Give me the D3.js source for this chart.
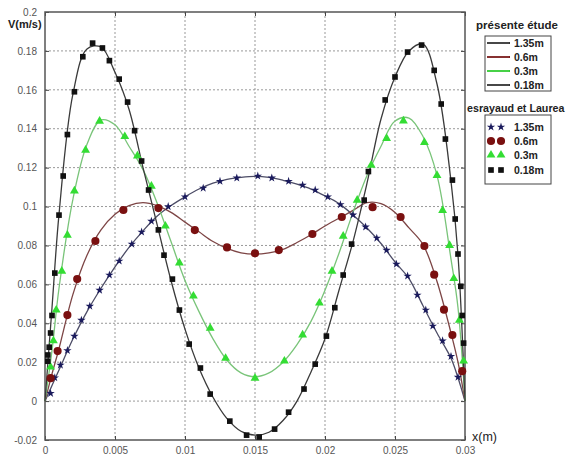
<!DOCTYPE html>
<html>
<head>
<meta charset="utf-8">
<script src="https://cdn.jsdelivr.net/npm/d3@7"></script>
<style>
  body { margin: 0; background: #fff; }
  svg { display: block; font-family: "Liberation Sans", Arial, sans-serif; }
</style>
</head>
<body>
<div id="chart"></div>
<script>
var width = 566,
    height = 455;

// x grid of the computed curves (présente étude)
var xGrid = [0, 0.0005, 0.001, 0.002, 0.003, 0.004, 0.005, 0.006, 0.007, 0.008, 0.009, 0.010, 0.011, 0.012, 0.013, 0.014, 0.015,
  0.016, 0.017, 0.018, 0.019, 0.020, 0.021, 0.022, 0.023, 0.024, 0.025, 0.026, 0.027, 0.028, 0.029, 0.0295, 0.03];

var line135 = [0, 0.008, 0.016, 0.032, 0.046, 0.058, 0.069, 0.079, 0.0875, 0.095, 0.1005, 0.105, 0.109, 0.112, 0.114, 0.115, 0.1155,
  0.115, 0.1135, 0.1115, 0.109, 0.1055, 0.1015, 0.0957, 0.089, 0.081, 0.0715, 0.063, 0.049, 0.035, 0.022, 0.012, 0];
var line06 = [0, 0.014, 0.027, 0.055, 0.075, 0.088, 0.096, 0.1005, 0.102, 0.1005, 0.097, 0.092, 0.087, 0.082, 0.0785, 0.0762, 0.0755,
  0.0762, 0.078, 0.0815, 0.0855, 0.09, 0.094, 0.098, 0.102, 0.1015, 0.097, 0.089, 0.0805, 0.0615, 0.035, 0.02, 0];
var line03 = [0, 0.026, 0.058, 0.104, 0.132, 0.1445, 0.142, 0.131, 0.119, 0.102, 0.082, 0.062, 0.046, 0.032, 0.021, 0.0145, 0.0125,
  0.0145, 0.02, 0.029, 0.041, 0.057, 0.076, 0.097, 0.116, 0.131, 0.144, 0.1455, 0.136, 0.116, 0.073, 0.048, 0];
var line018 = [0, 0.048, 0.096, 0.158, 0.181, 0.182, 0.169, 0.150, 0.120, 0.091, 0.062, 0.037, 0.017, 0.002, -0.009, -0.0155, -0.0175,
  -0.016, -0.010, 0.000, 0.015, 0.032, 0.057, 0.082, 0.112, 0.145, 0.1666, 0.180, 0.1835, 0.163, 0.113, 0.075, 0];

// Desrayaud et Laureau points [x, v]
var pts135 = [[0.0004,0.004],[0.0007,0.012],[0.0011,0.0185],[0.0016,0.026],[0.0021,0.0334],[0.0026,0.0416],[0.0032,0.0488],
  [0.0039,0.057],[0.0046,0.0648],[0.0053,0.072],[0.0062,0.0807],[0.0069,0.0869],[0.0076,0.0925],[0.0088,0.1],[0.0100,0.105],
  [0.0113,0.1095],[0.0125,0.113],[0.0137,0.1147],[0.0152,0.1157],[0.0162,0.1147],[0.0174,0.113],[0.0184,0.111],[0.0193,0.1085],
  [0.0202,0.105],[0.0211,0.101],[0.0220,0.0957],[0.0229,0.0895],[0.0237,0.0838],[0.0244,0.0776],[0.0251,0.0704],[0.0259,0.0643],
  [0.0266,0.0545],[0.0272,0.0468],[0.0277,0.0386],[0.0284,0.031],[0.0290,0.023],[0.0295,0.0123]];
var pts06 = [[0.0004,0.0118],[0.0009,0.0257],[0.0016,0.0442],[0.0023,0.0627],[0.0036,0.0823],[0.0056,0.0982],[0.0081,0.0992],
  [0.0107,0.0879],[0.0130,0.079],[0.0150,0.076],[0.0167,0.0776],[0.0191,0.0859],[0.0212,0.0946],[0.0234,0.0997],[0.0254,0.0946],
  [0.0271,0.0797],[0.0278,0.065],[0.0285,0.047],[0.0291,0.034],[0.0298,0.0154]];
var pts03 = [[0.0004,0.0175],[0.0006,0.031],[0.0008,0.0468],[0.0012,0.0668],[0.0016,0.0853],[0.0021,0.108],[0.0029,0.129],
  [0.0039,0.1439],[0.0057,0.136],[0.0066,0.126],[0.0076,0.1105],[0.0086,0.09],[0.0096,0.071],[0.0106,0.054],[0.0118,0.0375],
  [0.0129,0.022],[0.0150,0.0118],[0.0171,0.0206],[0.0184,0.034],[0.0196,0.0504],[0.0205,0.0668],[0.0213,0.0848],[0.0223,0.1033],
  [0.0233,0.1213],[0.0244,0.135],[0.0256,0.144],[0.0271,0.133],[0.0280,0.116],[0.0284,0.098],[0.0289,0.080],[0.0292,0.063],
  [0.0296,0.0416],[0.0299,0.0206]];
var pts018 = [[0.0002,0.0205],[0.0002,0.0237],[0.0003,0.0277],[0.0004,0.035],[0.0005,0.044],[0.0007,0.0658],[0.0010,0.0956],
  [0.0013,0.1157],[0.0016,0.137],[0.0021,0.159],[0.0027,0.177],[0.0034,0.184],[0.0041,0.1815],[0.0046,0.175],[0.0053,0.1655],
  [0.0059,0.1537],[0.0064,0.139],[0.0069,0.1234],[0.0074,0.1085],[0.0081,0.088],[0.0085,0.075],[0.0091,0.0627],[0.0096,0.0468],
  [0.0103,0.0293],[0.0111,0.017],[0.0118,0.0036],[0.0132,-0.0103],[0.0144,-0.0175],[0.0153,-0.0185],[0.0164,-0.0144],
  [0.0174,-0.0057],[0.0185,0.0062],[0.0193,0.019],[0.0201,0.0334],[0.0207,0.048],[0.0213,0.0648],[0.0219,0.0807],[0.0228,0.1033],
  [0.0231,0.118],[0.0243,0.1548],[0.0250,0.1666],[0.0259,0.1794],[0.0269,0.183],[0.0278,0.170],[0.0283,0.1527],[0.0286,0.1347],
  [0.0291,0.1136],[0.0293,0.0936],[0.0295,0.0756],[0.0297,0.059],[0.0298,0.044],[0.0299,0.0298]];

var seriesNames = ["1.35m", "0.6m", "0.3m", "0.18m"];

var xTicks = [0, 0.005, 0.01, 0.015, 0.02, 0.025, 0.03];
var xTickLabels = ["0", "0.005", "0.01", "0.015", "0.02", "0.025", "0.03"];
var yTicks = [-0.02, 0, 0.02, 0.04, 0.06, 0.08, 0.1, 0.12, 0.14, 0.16, 0.18, 0.2];
var yTickLabels = ["-0.02", "0", "0.02", "0.04", "0.06", "0.08", "0.1", "0.12", "0.14", "0.16", "0.18", "0.2"];

var lineColors = ["#4c4c66", "#7d4545", "#79c479", "#3a3a3a"];
var legendLineColors = ["#333333", "#7a1a1a", "#33cc33", "#333333"];
var markColors = ["#1a1a5c", "#7a1010", "#33dd33", "#111111"];

var plot = {left: 45, right: 465, top: 12, bottom: 440};

var svg = d3.select("#chart")
    .append("svg")
    .attr("width", width)
    .attr("height", height);

var x = d3.scaleLinear().domain([0, 0.03]).range([plot.left, plot.right]);
var y = d3.scaleLinear().domain([-0.02, 0.2]).range([plot.bottom, plot.top]);

// dotted grid
svg.append("g").selectAll("line")
  .data(xTicks.slice(1, -1))
  .enter().append("line")
  .attr("x1", function(d) { return x(d); })
  .attr("x2", function(d) { return x(d); })
  .attr("y1", plot.top).attr("y2", plot.bottom)
  .attr("stroke", "#999").attr("stroke-dasharray", "2,2");
svg.append("g").selectAll("line")
  .data(yTicks.slice(1, -1))
  .enter().append("line")
  .attr("y1", function(d) { return y(d); })
  .attr("y2", function(d) { return y(d); })
  .attr("x1", plot.left).attr("x2", plot.right)
  .attr("stroke", "#999").attr("stroke-dasharray", "2,2");

// axes (inward ticks)
var xAxis = d3.axisBottom(x).tickValues(xTicks).tickSizeInner(-4).tickSizeOuter(0).tickPadding(7)
  .tickFormat(function(d, i) { return xTickLabels[i]; });
var yAxis = d3.axisLeft(y).tickValues(yTicks).tickSizeInner(-4).tickSizeOuter(0).tickPadding(8)
  .tickFormat(function(d, i) { return yTickLabels[i]; });

var gx = svg.append("g").attr("transform", "translate(0," + plot.bottom + ")").call(xAxis);
var gy = svg.append("g").attr("transform", "translate(" + plot.left + ",0)").call(yAxis);
svg.append("g").attr("transform", "translate(0," + plot.top + ")")
  .call(d3.axisTop(x).tickValues(xTicks).tickSizeInner(-4).tickSizeOuter(0).tickFormat(""));
svg.append("g").attr("transform", "translate(" + plot.right + ",0)")
  .call(d3.axisRight(y).tickValues(yTicks).tickSizeInner(-4).tickSizeOuter(0).tickFormat(""));

svg.selectAll(".domain").remove();
svg.selectAll(".tick line").attr("stroke", "#444");
svg.selectAll(".tick text").attr("fill", "#555").style("font-size", "10px").style("font-family", "'Liberation Sans', Arial, sans-serif");

svg.append("rect")
  .attr("x", plot.left).attr("y", plot.top)
  .attr("width", plot.right - plot.left).attr("height", plot.bottom - plot.top)
  .attr("fill", "none").attr("stroke", "#555").attr("stroke-width", 1.5);

// curves
var lines = [line135, line06, line03, line018];
var pathGen = d3.line()
  .x(function(d) { return x(d[0]); })
  .y(function(d) { return y(d[1]); })
  .curve(d3.curveCatmullRom.alpha(0.5));

lines.forEach(function(vals, i) {
  svg.append("path")
    .datum(xGrid.map(function(xv, j) { return [xv, vals[j]]; }))
    .attr("d", pathGen)
    .attr("fill", "none")
    .attr("stroke", lineColors[i])
    .attr("stroke-width", 1.3);
});

// markers
var symbols = [d3.symbolStar, d3.symbolCircle, d3.symbolTriangle, d3.symbolSquare];
var symSizes = [22, 52, 34, 32];
var ptsAll = [pts135, pts06, pts03, pts018];

ptsAll.forEach(function(pts, i) {
  svg.append("g").selectAll("path")
    .data(pts)
    .enter().append("path")
    .attr("transform", function(d) { return "translate(" + x(d[0]) + "," + y(d[1]) + ")"; })
    .attr("d", d3.symbol().type(symbols[i]).size(symSizes[i]))
    .attr("fill", markColors[i]);
});

// axis titles
svg.append("text").attr("x", 8).attr("y", 28)
  .style("font-size", "11px").style("font-weight", "bold").attr("fill", "#222")
  .text("V(m/s)");
svg.append("text").attr("x", 472).attr("y", 441)
  .style("font-size", "12.5px").attr("fill", "#222")
  .text("x(m)");

// legends
var leg = svg.append("g").style("font-weight", "bold").attr("fill", "#222");
leg.append("text").attr("x", 517).attr("y", 29).attr("text-anchor", "middle")
  .style("font-size", "11.5px").text("présente étude");
leg.append("rect").attr("x", 485).attr("y", 36).attr("width", 66).attr("height", 55)
  .attr("fill", "#fff").attr("stroke", "#444");
var rows1 = [43, 57, 71, 85];
seriesNames.forEach(function(n, i) {
  leg.append("line").attr("x1", 487).attr("x2", 510).attr("y1", rows1[i]).attr("y2", rows1[i])
    .attr("stroke", legendLineColors[i]).attr("stroke-width", 1.8);
  leg.append("text").attr("x", 514).attr("y", rows1[i] + 4).style("font-size", "10.5px").text(n);
});

leg.append("text").attr("x", 467).attr("y", 112)
  .style("font-size", "10.7px").text("esrayaud et Laurea");
leg.append("rect").attr("x", 485).attr("y", 115).attr("width", 66).attr("height", 69)
  .attr("fill", "#fff").attr("stroke", "#444");
var rows2 = [127, 141, 155, 170];
seriesNames.forEach(function(n, i) {
  [491, 501].forEach(function(mx) {
    leg.append("path")
      .attr("transform", "translate(" + mx + "," + rows2[i] + ")")
      .attr("d", d3.symbol().type(symbols[i]).size(symSizes[i]))
      .attr("fill", markColors[i]);
  });
  leg.append("text").attr("x", 514).attr("y", rows2[i] + 4).style("font-size", "10.5px").text(n);
});
</script>
</body>
</html>
